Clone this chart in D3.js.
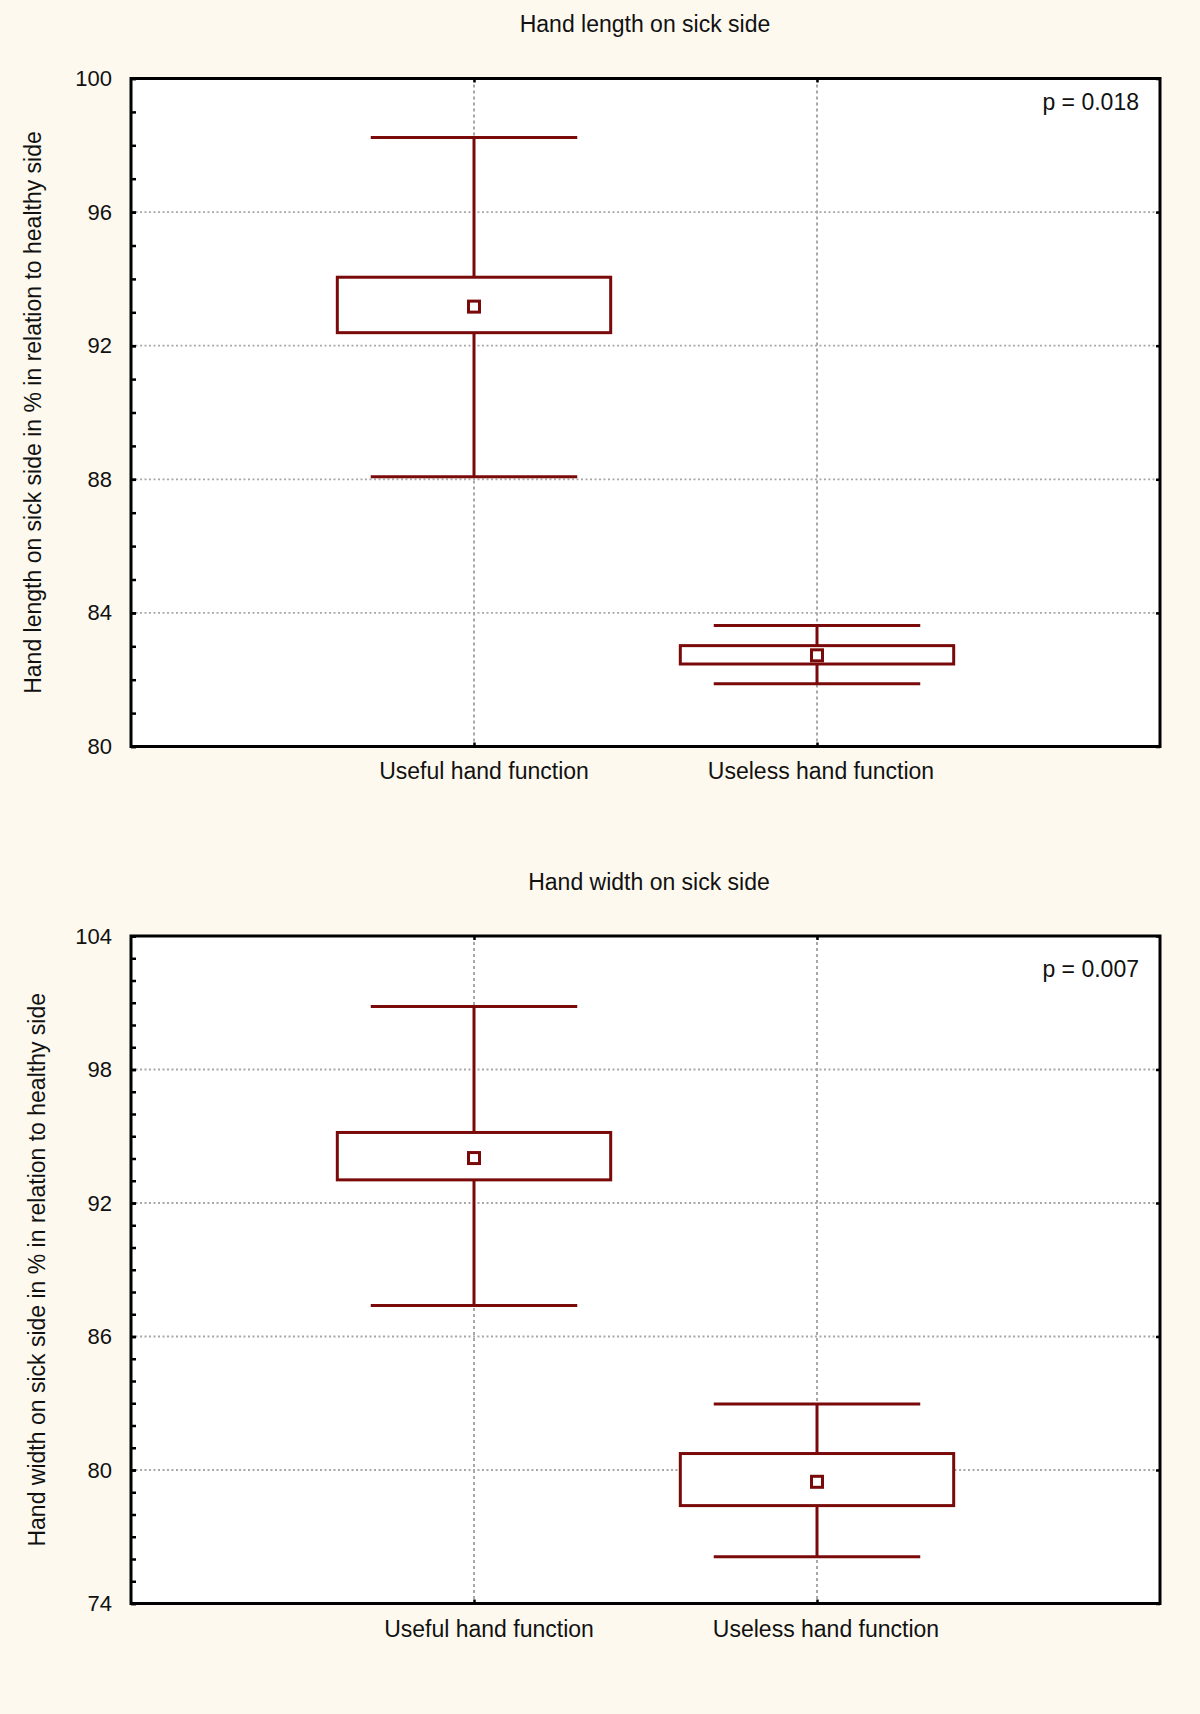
<!DOCTYPE html>
<html><head><meta charset="utf-8">
<script src="https://cdn.jsdelivr.net/npm/d3@7"></script>
<style>
html,body{margin:0;padding:0;background:#fdf9ef;}
svg{display:block;}
text{font-family:"Liberation Sans",Arial,sans-serif;fill:#111;}
</style></head>
<body>
<script>
const categories = ["Useful hand function", "Useless hand function"];
const titles = ["Hand length on sick side", "Hand width on sick side"];
const yAxisLabels = ["Hand length on sick side in % in relation to healthy side",
                     "Hand width on sick side in % in relation to healthy side"];
const pValues = ["p = 0.018", "p = 0.007"];

// Hand length
const lengthMean = [93.17, 82.73];
const lengthBoxLow = [92.39, 82.47];
const lengthBoxHigh = [94.05, 83.02];
const lengthWhiskerLow = [88.08, 81.88];
const lengthWhiskerHigh = [98.23, 83.62];
const lengthTicks = [80, 84, 88, 92, 96, 100];

// Hand width
const widthMean = [94.02, 79.47];
const widthBoxLow = [93.04, 78.4];
const widthBoxHigh = [95.17, 80.74];
const widthWhiskerLow = [87.39, 76.1];
const widthWhiskerHigh = [100.83, 82.97];
const widthTicks = [74, 80, 86, 92, 98, 104];

const W = 1200, H = 1714;
const svg = d3.select("body").append("svg").attr("width", W).attr("height", H);
svg.append("rect").attr("width", W).attr("height", H).attr("fill", "#fdf9ef");

const boxColor = "#7a0a0a";
const panels = [
  {top: 78.5, bottom: 746.5, titleY: 24, ticks: lengthTicks,
   mean: lengthMean, lo: lengthBoxLow, hi: lengthBoxHigh, wl: lengthWhiskerLow, wh: lengthWhiskerHigh,
   labelX: 33, catY: 771, pY: 102, catDx: [10, 4]},
  {top: 936, bottom: 1603.5, titleY: 882, ticks: widthTicks,
   mean: widthMean, lo: widthBoxLow, hi: widthBoxHigh, wl: widthWhiskerLow, wh: widthWhiskerHigh,
   labelX: 37, catY: 1629, pY: 969, catDx: [15, 9]}
];
const left = 131, right = 1160;

panels.forEach((p, i) => {
  const g = svg.append("g");
  const y = d3.scaleLinear().domain([p.ticks[0], p.ticks[p.ticks.length - 1]]).range([p.bottom, p.top]);
  const x = d3.scalePoint().domain(categories).range([left, right]).padding(1);
  const step = x.step();

  g.append("rect").attr("x", left).attr("y", p.top).attr("width", right - left).attr("height", p.bottom - p.top).attr("fill", "#fff");

  g.append("g").selectAll("line").data(p.ticks.slice(1, -1)).join("line")
    .attr("x1", left).attr("x2", right).attr("y1", d => y(d)).attr("y2", d => y(d))
    .attr("stroke", "#a8a8a8").attr("stroke-width", 1.8).attr("stroke-dasharray", "2,2.5");
  g.append("g").selectAll("line").data(categories).join("line")
    .attr("x1", d => x(d)).attr("x2", d => x(d)).attr("y1", p.top).attr("y2", p.bottom)
    .attr("stroke", "#a8a8a8").attr("stroke-width", 2).attr("stroke-dasharray", "3,3");

  const minor = d3.range(p.ticks[0], p.ticks[p.ticks.length - 1] + 1, 1);
  const ma = g.append("g").attr("transform", `translate(${left},0)`)
    .call(d3.axisLeft(y).tickValues(minor).tickSize(-5).tickFormat(""));
  ma.select(".domain").remove();
  ma.selectAll("line").attr("stroke", "#000").attr("stroke-width", 2.5);

  const ya = g.append("g").attr("transform", `translate(${left},0)`)
    .call(d3.axisLeft(y).tickValues(p.ticks).tickSize(-5).tickPadding(19).tickFormat(d3.format("d")));
  ya.select(".domain").remove();
  ya.selectAll("line").attr("stroke", "#000").attr("stroke-width", 2.5);
  ya.selectAll("text").attr("font-size", 22).attr("fill", "#111").style("font-family", "Liberation Sans, Arial, sans-serif");

  const ra = g.append("g").attr("transform", `translate(${right},0)`)
    .call(d3.axisRight(y).tickValues(p.ticks).tickSize(-4).tickFormat(""));
  ra.select(".domain").remove();
  ra.selectAll("line").attr("stroke", "#000").attr("stroke-width", 2.5);

  const xb = g.append("g").attr("transform", `translate(0,${p.bottom})`)
    .call(d3.axisBottom(x).tickSize(-4).tickFormat(""));
  xb.select(".domain").remove();
  xb.selectAll("line").attr("stroke", "#000").attr("stroke-width", 2.5);
  const xt = g.append("g").attr("transform", `translate(0,${p.top})`)
    .call(d3.axisTop(x).tickSize(-4).tickFormat(""));
  xt.select(".domain").remove();
  xt.selectAll("line").attr("stroke", "#000").attr("stroke-width", 2.5);

  g.append("g").selectAll("text").data(categories).join("text")
    .attr("x", (d, j) => x(d) + p.catDx[j]).attr("y", p.catY).attr("dy", "0.35em")
    .attr("text-anchor", "middle").attr("font-size", 23).text(d => d);

  g.append("rect").attr("x", left).attr("y", p.top).attr("width", right - left).attr("height", p.bottom - p.top)
    .attr("fill", "none").attr("stroke", "#000").attr("stroke-width", 3);

  const bw = step * 0.797, cw = step * 0.602;
  const bg = g.append("g").attr("stroke", boxColor).attr("stroke-width", 3).attr("fill", "none");
  categories.forEach((c, j) => {
    const cx = x(c);
    bg.append("line").attr("x1", cx).attr("x2", cx).attr("y1", y(p.wh[j])).attr("y2", y(p.hi[j]));
    bg.append("line").attr("x1", cx).attr("x2", cx).attr("y1", y(p.lo[j])).attr("y2", y(p.wl[j]));
    bg.append("line").attr("x1", cx - cw / 2).attr("x2", cx + cw / 2).attr("y1", y(p.wh[j])).attr("y2", y(p.wh[j]));
    bg.append("line").attr("x1", cx - cw / 2).attr("x2", cx + cw / 2).attr("y1", y(p.wl[j])).attr("y2", y(p.wl[j]));
    bg.append("rect").attr("x", cx - bw / 2).attr("width", bw).attr("y", y(p.hi[j])).attr("height", y(p.lo[j]) - y(p.hi[j])).attr("fill", "#fff");
    bg.append("rect").attr("x", cx - 5.5).attr("y", y(p.mean[j]) - 5.5).attr("width", 11).attr("height", 11).attr("fill", "#fff");
  });

  g.append("text").attr("x", 645 + i * 4).attr("y", p.titleY).attr("dy", "0.35em").attr("text-anchor", "middle")
    .attr("font-size", 23).text(titles[i]);
  g.append("text").attr("x", 1139).attr("y", p.pY).attr("dy", "0.35em").attr("text-anchor", "end")
    .attr("font-size", 23).text(pValues[i]);
  const cy = (p.top + p.bottom) / 2;
  g.append("text").attr("transform", `translate(${p.labelX},${cy}) rotate(-90)`).attr("dy", "0.35em")
    .attr("text-anchor", "middle").attr("font-size", 23).text(yAxisLabels[i]);
});
</script>
</body></html>
